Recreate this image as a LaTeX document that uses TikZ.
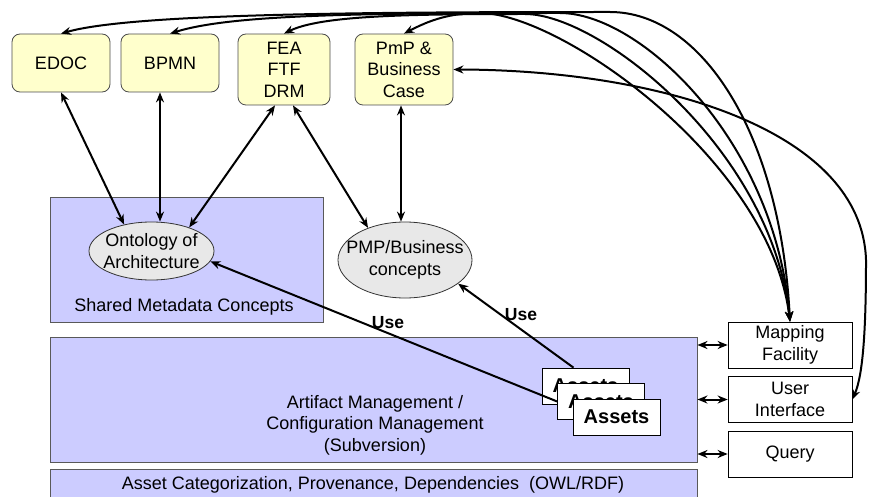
\documentclass[tikz,border=0pt]{standalone}
\usepackage{fontspec}
\setmainfont{Liberation Sans}
\usetikzlibrary{arrows.meta,shapes.geometric}
\definecolor{layerblue}{HTML}{CCCCFF}
\definecolor{modelyellow}{HTML}{FFFFCC}

\begin{document}
\begin{tikzpicture}[x=1pt,y=-1pt,>={Stealth[length=10pt,width=8pt]},
  font=\fontsize{18}{21.5}\selectfont,
  model/.style={draw=black!70,fill=modelyellow,rounded corners=8pt,align=center,
    inner sep=0pt,line width=.8pt,minimum width=98pt,minimum height=58pt},
  layer/.style={draw=black!65,fill=layerblue,inner sep=0pt,line width=.9pt},
  concept/.style={ellipse,draw=black!80,fill=black!9,align=center,inner sep=-12pt,line width=.8pt},
  tool/.style={draw=black,fill=white,align=center,inner sep=0pt,line width=.7pt,
    minimum width=124pt,minimum height=46pt},
  asset/.style={draw=black,fill=white,inner sep=0pt,line width=.7pt,
    minimum width=87pt,minimum height=36pt,font=\fontsize{20}{24}\selectfont\bfseries},
  link/.style={<->,line width=2pt},
  uselabel/.style={font=\fontsize{17.5}{20}\selectfont\bfseries}]
  \useasboundingbox (0,0) rectangle (869,497);
  \node[model] (edoc) at (61,63) {EDOC};
  \node[model] (bpmn) at (170,63) {BPMN};
  \node[model,minimum width=92pt,minimum height=71pt] (fea) at (284,69.5) {FEA\\FTF\\DRM};
  \node[model,minimum height=71pt] (pmp) at (404,69.5) {PmP \&\\Business\\Case};
  \node[layer,minimum width=273pt,minimum height=125pt] (shared) at (186.5,259.5) {};
  \node (sharedtext) at (184,307) {Shared Metadata Concepts};
  \node[layer,minimum width=647pt,minimum height=125pt] (art) at (373.5,399.5) {};
  \node[align=center] (arttext) at (375,425) {Artifact Management /\\Configuration Management\\(Subversion)};
  \node[layer,minimum width=647pt,minimum height=32pt] (cat) at (373.5,485) {};
  \node (cattext) at (373,485) {Asset Categorization, Provenance, Dependencies\ \ (OWL/RDF)};
  \node[concept,minimum width=125pt,minimum height=58pt] (onto) at (151.5,251) {Ontology of\\Architecture};
  \node[concept,minimum width=134pt,minimum height=76pt] (pmpc) at (405,260) {PMP/Business\\concepts};
  \node[asset] (a1) at (585.5,386) {Assets};
  \node[asset] (a2) at (601,401.5) {Assets};
  \node[asset] (a3) at (616.5,417) {Assets};
  \node[tool] (map) at (790,345) {Mapping\\Facility};
  \node[tool] (ui) at (790,399.5) {User\\Interface};
  \node[tool] (query) at (790,454) {Query};
  \node[uselabel] (use1) at (388,323) {Use};
  \node[uselabel] (use2) at (521,315) {Use};
  \draw[link] (edoc.south) -- (onto.136);
  \draw[link] ([xshift=-10pt]bpmn.south) -- ([xshift=-10pt]bpmn.south |- onto.north);
  \draw[link] ([xshift=-9pt]fea.south) -- (onto.32);
  \draw[link] ([xshift=9pt]fea.south) -- (pmpc.139);
  \draw[link] ([xshift=-3pt]pmp.south) -- ([xshift=-3pt]pmp.south |- pmpc.north);
  \draw[->,line width=2pt] (a2.west) -- (onto.-10);
  \draw[->,line width=2pt] ([xshift=-12pt]a1.north) -- (pmpc.-24);
  \draw[link] (art.east |- map.west) -- (map.west);
  \draw[link] (art.east |- ui.west) -- (ui.west);
  \draw[link] (art.east |- query.west) -- (query.west);
  \draw[link] (map.north) .. controls (780,130) and (700,12) .. (610,12)
    .. controls (350,12) and (130,14) .. (edoc.north);
  \draw[link] (map.north) .. controls (775,140) and (640,13) .. (560,13)
    .. controls (350,13) and (230,15) .. (bpmn.north);
  \draw[link] (map.north) .. controls (772,150) and (600,14) .. (525,14)
    .. controls (400,14) and (320,16) .. (fea.north);
  \draw[link] (map.north) .. controls (770,160) and (560,13) .. (480,13)
    .. controls (450,13) and (430,20) .. (pmp.north);
  \draw[link] (pmp.east) .. controls (660,70) and (862,130) .. (866,260)
    .. controls (866,330) and (863,375) .. (ui.east);
\end{tikzpicture}
\end{document}
